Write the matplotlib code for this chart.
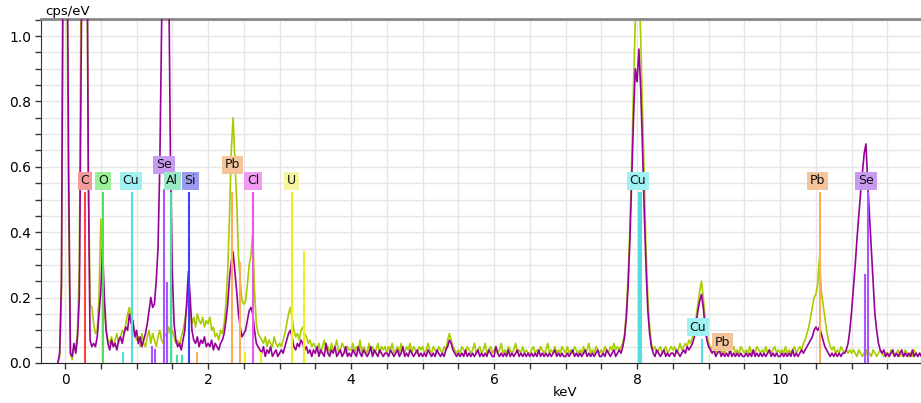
import numpy as np
import matplotlib
matplotlib.use("Agg")
import matplotlib.pyplot as plt
from matplotlib.ticker import MultipleLocator, FormatStrFormatter

# spectra sampled every 25 eV starting at -0.1 keV
e_start = -0.1
e_step = 0.025

spec_green = [
    0.00, 0.02, 0.21, 1.30,
    1.50, 1.30, 0.45, 0.03, 0.01, 0.05, 0.04, 0.10, 0.30, 1.20, 1.70, 1.80, 1.50, 0.60, 0.18, 0.17, 0.12, 0.09, 0.10, 0.20,
    0.44, 0.30, 0.16, 0.10, 0.07, 0.06, 0.08, 0.05, 0.07, 0.09, 0.06, 0.08, 0.10, 0.09, 0.12, 0.15, 0.17, 0.14, 0.12, 0.09,
    0.07, 0.08, 0.05, 0.09, 0.06, 0.05, 0.08, 0.10, 0.06, 0.09, 0.07, 0.05, 0.08, 0.10, 0.07, 0.06, 0.09, 0.08, 0.11, 0.09,
    0.10, 0.08, 0.06, 0.07, 0.05, 0.08, 0.10, 0.13, 0.17, 0.20, 0.16, 0.12, 0.14, 0.11, 0.15, 0.13, 0.12, 0.14, 0.11, 0.13,
    0.12, 0.14, 0.10, 0.11, 0.08, 0.09, 0.07, 0.10, 0.09, 0.12, 0.18, 0.28, 0.45, 0.65, 0.75, 0.62, 0.50, 0.33, 0.25, 0.19,
    0.18, 0.19, 0.24, 0.30, 0.33, 0.40, 0.22, 0.12, 0.09, 0.08, 0.07, 0.06, 0.08, 0.05, 0.07, 0.06, 0.05, 0.08, 0.06, 0.05,
    0.06, 0.05, 0.07, 0.09, 0.12, 0.15, 0.17, 0.14, 0.10, 0.08, 0.09, 0.07, 0.10, 0.11, 0.09, 0.08, 0.06, 0.07, 0.05, 0.06,
    0.05, 0.04, 0.06, 0.03, 0.05, 0.07, 0.04, 0.05, 0.03, 0.06, 0.04, 0.05, 0.07, 0.03, 0.04, 0.06, 0.05, 0.03, 0.05, 0.04,
    0.04, 0.06, 0.03, 0.05, 0.04, 0.07, 0.03, 0.05, 0.04, 0.03, 0.06, 0.04, 0.05, 0.03, 0.04, 0.06, 0.03, 0.05, 0.04, 0.05,
    0.03, 0.05, 0.04, 0.06, 0.03, 0.04, 0.05, 0.03, 0.06, 0.04, 0.03, 0.05, 0.04, 0.06, 0.03, 0.05, 0.04, 0.03, 0.05, 0.04,
    0.05, 0.03, 0.04, 0.06, 0.04, 0.03, 0.05, 0.04, 0.03, 0.05, 0.04, 0.03, 0.05, 0.04, 0.07, 0.09, 0.07, 0.05, 0.04, 0.03,
    0.04, 0.03, 0.05, 0.04, 0.03, 0.05, 0.04, 0.03, 0.04, 0.06, 0.03, 0.04, 0.05, 0.03, 0.04, 0.06, 0.03, 0.04, 0.05, 0.03,
    0.04, 0.05, 0.03, 0.04, 0.06, 0.03, 0.04, 0.03, 0.05, 0.04, 0.03, 0.04, 0.06, 0.03, 0.04, 0.03, 0.05, 0.03, 0.04, 0.03,
    0.03, 0.04, 0.05, 0.03, 0.04, 0.03, 0.05, 0.04, 0.03, 0.04, 0.06, 0.03, 0.04, 0.03, 0.05, 0.03, 0.04, 0.03, 0.05, 0.04,
    0.03, 0.05, 0.03, 0.04, 0.03, 0.05, 0.04, 0.03, 0.04, 0.03, 0.05, 0.03, 0.04, 0.06, 0.03, 0.04, 0.03, 0.05, 0.04, 0.03,
    0.04, 0.03, 0.05, 0.04, 0.03, 0.05, 0.04, 0.06, 0.04, 0.05, 0.04, 0.05, 0.06, 0.09, 0.16, 0.27, 0.42, 0.62, 0.85, 1.05,
    1.15, 1.15, 1.00, 0.78, 0.55, 0.35, 0.20, 0.11, 0.06, 0.04, 0.05, 0.03, 0.04, 0.05, 0.03, 0.04, 0.05, 0.03, 0.04, 0.05,
    0.04, 0.05, 0.03, 0.04, 0.06, 0.04, 0.05, 0.06, 0.05, 0.07, 0.06, 0.08, 0.10, 0.14, 0.18, 0.22, 0.25, 0.20, 0.14, 0.09,
    0.06, 0.05, 0.04, 0.05, 0.03, 0.04, 0.05, 0.03, 0.04, 0.03, 0.05, 0.04, 0.03, 0.04, 0.05, 0.03, 0.04, 0.03, 0.05, 0.04,
    0.03, 0.04, 0.03, 0.05, 0.03, 0.04, 0.03, 0.05, 0.04, 0.03, 0.04, 0.03, 0.05, 0.03, 0.04, 0.03, 0.04, 0.05, 0.03, 0.04,
    0.03, 0.04, 0.03, 0.05, 0.03, 0.04, 0.03, 0.04, 0.05, 0.03, 0.04, 0.05, 0.04, 0.06, 0.07, 0.09, 0.11, 0.14, 0.17, 0.20,
    0.21, 0.24, 0.32, 0.22, 0.18, 0.14, 0.10, 0.07, 0.05, 0.04, 0.05, 0.03, 0.04, 0.03, 0.05, 0.04, 0.03, 0.04, 0.03, 0.04,
    0.03, 0.04, 0.03, 0.02, 0.04, 0.03, 0.02, 0.03, 0.04, 0.02, 0.03, 0.02, 0.04, 0.03, 0.02, 0.03, 0.04, 0.03, 0.02, 0.03,
    0.03, 0.02, 0.04, 0.03, 0.02, 0.03, 0.04, 0.02, 0.03, 0.02, 0.04, 0.03, 0.02, 0.03, 0.02, 0.04, 0.03, 0.02, 0.03, 0.02,
]

spec_purple = [
    0.00, 0.03, 0.25, 1.40,
    1.60, 1.50, 0.60, 0.03, 0.02, 0.06, 0.03, 0.08, 0.20, 0.90, 1.60, 1.90, 1.70, 0.60, 0.07, 0.05, 0.06, 0.05, 0.08, 0.15,
    0.22, 0.35, 0.20, 0.10, 0.06, 0.04, 0.07, 0.05, 0.06, 0.04, 0.07, 0.08, 0.06, 0.09, 0.11, 0.10, 0.15, 0.12, 0.13, 0.08,
    0.10, 0.06, 0.08, 0.05, 0.07, 0.09, 0.12, 0.16, 0.20, 0.17, 0.18, 0.25, 0.35, 0.60, 1.00, 1.50, 1.80, 1.70, 1.20, 0.60,
    0.28, 0.12, 0.07, 0.05, 0.06, 0.04, 0.07, 0.10, 0.18, 0.28, 0.20, 0.10, 0.07, 0.06, 0.08, 0.05, 0.07, 0.06, 0.08, 0.05,
    0.06, 0.05, 0.07, 0.04, 0.06, 0.05, 0.04, 0.06, 0.07, 0.09, 0.13, 0.18, 0.26, 0.31, 0.34, 0.28, 0.22, 0.15, 0.11, 0.08,
    0.09, 0.10, 0.13, 0.16, 0.17, 0.15, 0.10, 0.06, 0.05, 0.04, 0.03, 0.05, 0.02, 0.04, 0.03, 0.05, 0.02, 0.03, 0.04, 0.02,
    0.03, 0.04, 0.03, 0.05, 0.07, 0.09, 0.10, 0.08, 0.05, 0.04, 0.06, 0.05, 0.07, 0.06, 0.04, 0.05, 0.03, 0.04, 0.02, 0.04,
    0.03, 0.05, 0.02, 0.04, 0.03, 0.02, 0.06, 0.03, 0.02, 0.04, 0.03, 0.05, 0.02, 0.03, 0.04, 0.02, 0.03, 0.05, 0.02, 0.03,
    0.02, 0.04, 0.03, 0.02, 0.05, 0.03, 0.02, 0.04, 0.03, 0.02, 0.03, 0.05, 0.02, 0.04, 0.03, 0.02, 0.04, 0.03, 0.02, 0.03,
    0.03, 0.02, 0.04, 0.03, 0.02, 0.03, 0.04, 0.02, 0.03, 0.05, 0.02, 0.03, 0.02, 0.04, 0.03, 0.02, 0.03, 0.04, 0.02, 0.03,
    0.02, 0.03, 0.02, 0.04, 0.03, 0.02, 0.03, 0.02, 0.04, 0.03, 0.02, 0.03, 0.02, 0.04, 0.05, 0.07, 0.06, 0.04, 0.03, 0.02,
    0.03, 0.02, 0.03, 0.02, 0.04, 0.02, 0.03, 0.02, 0.03, 0.02, 0.03, 0.04, 0.02, 0.03, 0.02, 0.03, 0.02, 0.04, 0.03, 0.02,
    0.02, 0.05, 0.03, 0.02, 0.03, 0.02, 0.03, 0.02, 0.04, 0.02, 0.03, 0.02, 0.03, 0.04, 0.02, 0.03, 0.02, 0.03, 0.02, 0.03,
    0.02, 0.03, 0.02, 0.03, 0.02, 0.04, 0.02, 0.03, 0.02, 0.03, 0.02, 0.03, 0.02, 0.03, 0.04, 0.02, 0.03, 0.02, 0.03, 0.02,
    0.02, 0.03, 0.02, 0.03, 0.04, 0.02, 0.03, 0.02, 0.03, 0.02, 0.03, 0.04, 0.02, 0.03, 0.02, 0.03, 0.02, 0.03, 0.04, 0.02,
    0.02, 0.03, 0.02, 0.04, 0.03, 0.02, 0.03, 0.04, 0.02, 0.03, 0.04, 0.03, 0.05, 0.08, 0.14, 0.24, 0.38, 0.56, 0.75, 0.90,
    0.86, 0.96, 0.84, 0.66, 0.46, 0.29, 0.16, 0.09, 0.05, 0.03, 0.02, 0.04, 0.03, 0.02, 0.03, 0.04, 0.02, 0.03, 0.02, 0.03,
    0.03, 0.02, 0.04, 0.03, 0.02, 0.03, 0.04, 0.03, 0.05, 0.04, 0.05, 0.06, 0.08, 0.12, 0.16, 0.19, 0.21, 0.17, 0.11, 0.07,
    0.05, 0.04, 0.03, 0.04, 0.02, 0.03, 0.04, 0.02, 0.03, 0.02, 0.03, 0.02, 0.04, 0.02, 0.03, 0.02, 0.03, 0.02, 0.03, 0.02,
    0.02, 0.03, 0.02, 0.03, 0.02, 0.04, 0.02, 0.03, 0.02, 0.03, 0.02, 0.03, 0.02, 0.03, 0.04, 0.02, 0.03, 0.02, 0.03, 0.02,
    0.02, 0.03, 0.02, 0.03, 0.02, 0.03, 0.02, 0.04, 0.02, 0.03, 0.02, 0.03, 0.04, 0.03, 0.04, 0.05, 0.06, 0.07, 0.08, 0.10,
    0.11, 0.10, 0.11, 0.09, 0.07, 0.05, 0.04, 0.03, 0.02, 0.03, 0.02, 0.03, 0.02, 0.03, 0.02, 0.03, 0.03, 0.04, 0.06, 0.10,
    0.16, 0.23, 0.30, 0.38, 0.45, 0.52, 0.58, 0.64, 0.67, 0.55, 0.45, 0.35, 0.25, 0.15, 0.10, 0.06, 0.04, 0.03, 0.04, 0.02,
    0.03, 0.02, 0.03, 0.04, 0.02, 0.03, 0.02, 0.03, 0.04, 0.02, 0.03, 0.02, 0.03, 0.02, 0.04, 0.02, 0.03, 0.02, 0.03, 0.02,
]

# element marker lines
line_energy = [0.277, 0.525, 0.81, 0.93, 1.38, 1.43, 1.487, 1.74, 2.34, 2.443, 2.622, 3.17, 3.34,
               8.028, 8.048, 8.905, 10.551, 11.18, 11.222,
               1.21, 1.26, 1.56, 1.63, 1.84, 2.52, 2.74]
line_top = [0.52, 0.52, 0.03, 0.52, 0.53, 0.245, 0.52, 0.52, 0.52, 0.305, 0.52, 0.52, 0.34,
            0.52, 0.52, 0.07, 0.52, 0.27, 0.52,
            0.05, 0.04, 0.02, 0.02, 0.03, 0.03, 0.03]
line_color = ['#ff4040', '#55dd55', '#55dddd', '#55dddd', '#aa55ff', '#aa55ff', '#44dd99', '#4040ff',
              '#ffaa55', '#ffaa55', '#ee55ee', '#eeee22', '#eeee22',
              '#55dddd', '#55dddd', '#55dddd', '#ffaa55', '#aa55ff', '#aa55ff',
              '#aa55ff', '#aa55ff', '#44dd99', '#44dd99', '#ffaa55', '#eeee22', '#eeee22']

# element labels
label_text = ['C', 'O', 'Cu', 'Se', 'Al', 'Si', 'Pb', 'Cl', 'U', 'Cu', 'Cu', 'Pb', 'Pb', 'Se']
label_x = [0.28, 0.53, 0.92, 1.385, 1.50, 1.75, 2.34, 2.63, 3.17, 8.01, 8.85, 9.19, 10.52, 11.20]
label_y = [0.557, 0.557, 0.557, 0.606, 0.557, 0.557, 0.606, 0.557, 0.557, 0.557, 0.11, 0.064, 0.557, 0.557]
label_bg = ['#f59a9a', '#9af09a', '#a0f2f2', '#c89af0', '#9aeac8', '#9a9af0', '#f5c49a', '#f09af0',
            '#f5f5a0', '#a0f2f2', '#a0f2f2', '#f5c49a', '#f5c49a', '#c89af0']

fig = plt.figure(figsize=(9.21, 4.03), dpi=100)
ax = fig.add_axes([41 / 921, 40 / 403, 880 / 921, 344 / 403])

e_green = e_start + e_step * np.arange(len(spec_green))
e_purple = e_start + e_step * np.arange(len(spec_purple))
ax.plot(e_green, spec_green, color='#a8cc00', lw=1.2, zorder=2)
ax.plot(e_purple, spec_purple, color='#990099', lw=1.2, zorder=3)

for e, top, c in zip(line_energy, line_top, line_color):
    ax.plot([e, e], [0, top], color=c, lw=1.5, zorder=4)

for t, x, y, bg in zip(label_text, label_x, label_y, label_bg):
    ax.text(x, y, t, ha='center', va='center', fontsize=9, color='#111111', zorder=6,
            bbox=dict(boxstyle='square,pad=0.22', fc=bg, ec='none'))

ax.set_xlim(-0.336, 11.97)
ax.set_ylim(0, 1.052)
ax.xaxis.set_major_locator(MultipleLocator(2))
ax.xaxis.set_minor_locator(MultipleLocator(0.5))
ax.yaxis.set_major_locator(MultipleLocator(0.2))
ax.yaxis.set_minor_locator(MultipleLocator(0.05))
ax.yaxis.set_major_formatter(FormatStrFormatter('%.1f'))
ax.grid(which='both', color='#e6e6e6', lw=1.0, zorder=0)
ax.set_axisbelow(True)
ax.tick_params(which='both', direction='out', length=4, width=1, color='#333333',
               labelsize=10, pad=3)

ax.spines['right'].set_visible(False)
ax.spines['top'].set_color('#888888')
ax.spines['top'].set_linewidth(2)
ax.spines['left'].set_color('#333333')
ax.spines['bottom'].set_color('#222222')

fig.text(45 / 921, 1 - 11 / 403, 'cps/eV', fontsize=9.5, ha='left', va='center')
fig.text(565 / 921, 1 - 393 / 403, 'keV', fontsize=9.5, ha='center', va='center')

fig.savefig('out.png', dpi=100)
